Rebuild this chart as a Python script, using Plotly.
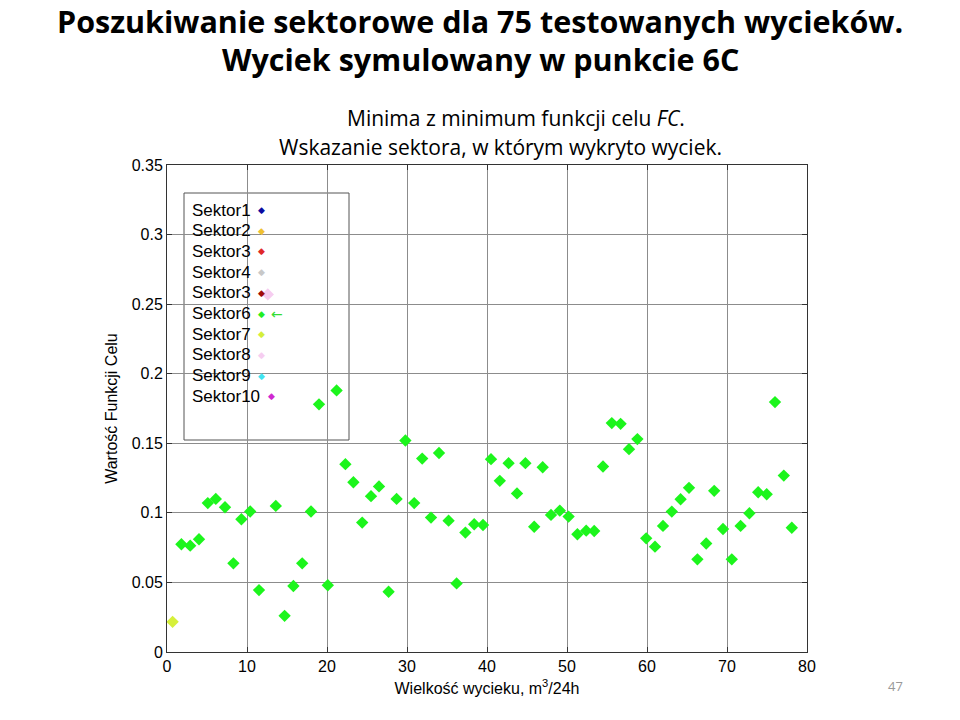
import plotly.graph_objects as go

# ---- data ----
leak_size = [0.7, 1.8, 2.9, 4.0, 5.1, 6.1, 7.25, 8.3, 9.3, 10.4, 11.5, 12.6, 13.6, 14.7,
             15.8, 16.9, 18.0, 19.0, 20.1, 21.2, 22.3, 23.3, 24.4, 25.5, 26.5, 27.7, 28.7,
             29.8, 30.9, 31.9, 33.0, 34.0, 35.2, 36.2, 37.3, 38.4, 39.5, 40.5, 41.6, 42.7,
             43.75, 44.8, 45.9, 46.96, 48.0, 49.1, 50.2, 51.3, 52.4, 53.4, 54.5, 55.6, 56.7,
             57.75, 58.8, 59.9, 61.0, 62.0, 63.1, 64.2, 65.25, 66.3, 67.4, 68.4, 69.5, 70.6,
             71.7, 72.8, 73.9, 74.96, 76.0, 77.1, 78.1]
fc_value = [0.0217, 0.0774, 0.0764, 0.081, 0.107, 0.110, 0.104, 0.0637, 0.0954, 0.101,
            0.0445, 0.257, 0.105, 0.026, 0.0474, 0.0637, 0.101, 0.178, 0.048, 0.188, 0.135,
            0.122, 0.093, 0.112, 0.119, 0.0433, 0.110, 0.152, 0.107, 0.139, 0.0966, 0.143,
            0.0944, 0.0493, 0.0858, 0.0918, 0.0913, 0.1386, 0.123, 0.1357, 0.114, 0.1357,
            0.090, 0.1328, 0.0985, 0.1016, 0.0973, 0.0846, 0.0872, 0.087, 0.1333, 0.1645,
            0.164, 0.1458, 0.153, 0.0817, 0.0757, 0.0906, 0.1009, 0.1098, 0.118, 0.0666,
            0.078, 0.1158, 0.0884, 0.0666, 0.0906, 0.0997, 0.1148, 0.1134, 0.1796, 0.1268,
            0.0893]
sector = [7] + [6] * 10 + [8] + [6] * (len(leak_size) - 12)

legend_labels = ["Sektor1", "Sektor2", "Sektor3", "Sektor4", "Sektor3", "Sektor6",
                 "Sektor7", "Sektor8", "Sektor9", "Sektor10"]
legend_colors = ["#0a0aa0", "#f0c030", "#e02828", "#c8c8c8", "#a00a0a", "#22ee22",
                 "#d4ee3a", "#f6cdf0", "#40e4f0", "#d028d0"]
sector_colors = {6: "#1cf51c", 7: "#d6f03a", 8: "#f6cdf0"}

x_ticks = [0, 10, 20, 30, 40, 50, 60, 70, 80]
y_ticks = [0, 0.05, 0.1, 0.15, 0.2, 0.25, 0.3, 0.35]
y_tick_text = ["0", "0.05", "0.1", "0.15", "0.2", "0.25", "0.3", "0.35"]

# ---- geometry helpers (pixel -> paper) ----
L, R, T, B = 167, 807, 165, 652
W, H = R - L, B - T
def px(p): return (p - L) / W
def py(p): return (B - p) / H

fig = go.Figure()
for s in sorted(set(sector)):
    xs = [x for x, k in zip(leak_size, sector) if k == s]
    ys = [y for y, k in zip(fc_value, sector) if k == s]
    fig.add_trace(go.Scatter(x=xs, y=ys, mode="markers", showlegend=False,
                             marker=dict(symbol="diamond", size=9.5, color=sector_colors[s],
                                         line=dict(width=0))))

shapes = [dict(type="rect", xref="paper", yref="paper", x0=px(184), x1=px(349),
               y0=py(440), y1=py(193), fillcolor="white", layer="between",
               line=dict(color="#555555", width=1))]

anns = []
# slide titles
anns.append(dict(text="<b>Poszukiwanie sektorowe dla 75 testowanych wycieków.</b>",
                 x=px(480), y=py(21), xref="paper", yref="paper", showarrow=False,
                 xanchor="center", yanchor="middle",
                 font=dict(family="Open Sans", size=30.5, color="black")))
anns.append(dict(text="<b>Wyciek symulowany w punkcie 6C</b>",
                 x=px(480), y=py(59), xref="paper", yref="paper", showarrow=False,
                 xanchor="center", yanchor="middle",
                 font=dict(family="Open Sans", size=30.5, color="black")))
anns.append(dict(text="Minima z minimum funkcji celu <i>FC</i>.",
                 x=px(516), y=py(118), xref="paper", yref="paper", showarrow=False,
                 xanchor="center", yanchor="middle",
                 font=dict(family="Open Sans", size=21, color="black")))
anns.append(dict(text="Wskazanie sektora, w którym wykryto wyciek.",
                 x=px(500), y=py(147), xref="paper", yref="paper", showarrow=False,
                 xanchor="center", yanchor="middle",
                 font=dict(family="Open Sans", size=21, color="black")))
anns.append(dict(text="47", x=px(895), y=py(686), xref="paper", yref="paper",
                 showarrow=False, xanchor="center", yanchor="middle",
                 font=dict(family="Open Sans", size=13, color="#999999")))

# legend entries
for i, (lab, col) in enumerate(zip(legend_labels, legend_colors)):
    yy = 210 + i * 20.7
    anns.append(dict(text=lab, x=px(190), y=py(yy), xref="paper", yref="paper",
                     showarrow=False, xanchor="left", yanchor="middle",
                     font=dict(family="Liberation Sans", size=17, color="black")))
    dx = 271.5 if lab == "Sektor10" else 261.5
    anns.append(dict(text="◆", x=px(dx), y=py(yy), xref="paper", yref="paper",
                     showarrow=False, xanchor="center", yanchor="middle",
                     font=dict(family="DejaVu Sans", size=9, color=col)))
    if lab == "Sektor6":
        anns.append(dict(text="←", x=px(277), y=py(yy), xref="paper", yref="paper",
                         showarrow=False, xanchor="center", yanchor="middle",
                         font=dict(family="DejaVu Sans", size=14, color="#33dd33")))

fig.update_layout(
    width=960, height=720,
    margin=dict(l=L, r=960 - R, t=T, b=720 - B, pad=0),
    paper_bgcolor="white", plot_bgcolor="white",
    font=dict(family="Liberation Sans", size=16, color="black"),
    shapes=shapes, annotations=anns, showlegend=False,
    xaxis=dict(range=[0, 80], tickmode="array", tickvals=x_ticks,
               showgrid=True, gridcolor="#8c8c8c", gridwidth=1, zeroline=False,
               showline=True, linecolor="#333333", linewidth=1, mirror="ticks",
               ticks="inside", ticklen=5, tickcolor="#333333",
               tickfont=dict(family="Liberation Sans", size=16),
               title=dict(text="Wielkość wycieku, m<sup>3</sup>/24h", standoff=8,
                          font=dict(family="Liberation Sans", size=16))),
    yaxis=dict(range=[0, 0.35], tickmode="array", tickvals=y_ticks, ticktext=y_tick_text,
               showgrid=True, gridcolor="#8c8c8c", gridwidth=1, zeroline=False,
               showline=True, linecolor="#333333", linewidth=1, mirror="ticks",
               ticks="inside", ticklen=5, tickcolor="#333333",
               tickfont=dict(family="Liberation Sans", size=16),
               title=dict(text="Wartość Funkcji Celu", standoff=10,
                          font=dict(family="Liberation Sans", size=16))),
)

fig.write_html("out.html")
